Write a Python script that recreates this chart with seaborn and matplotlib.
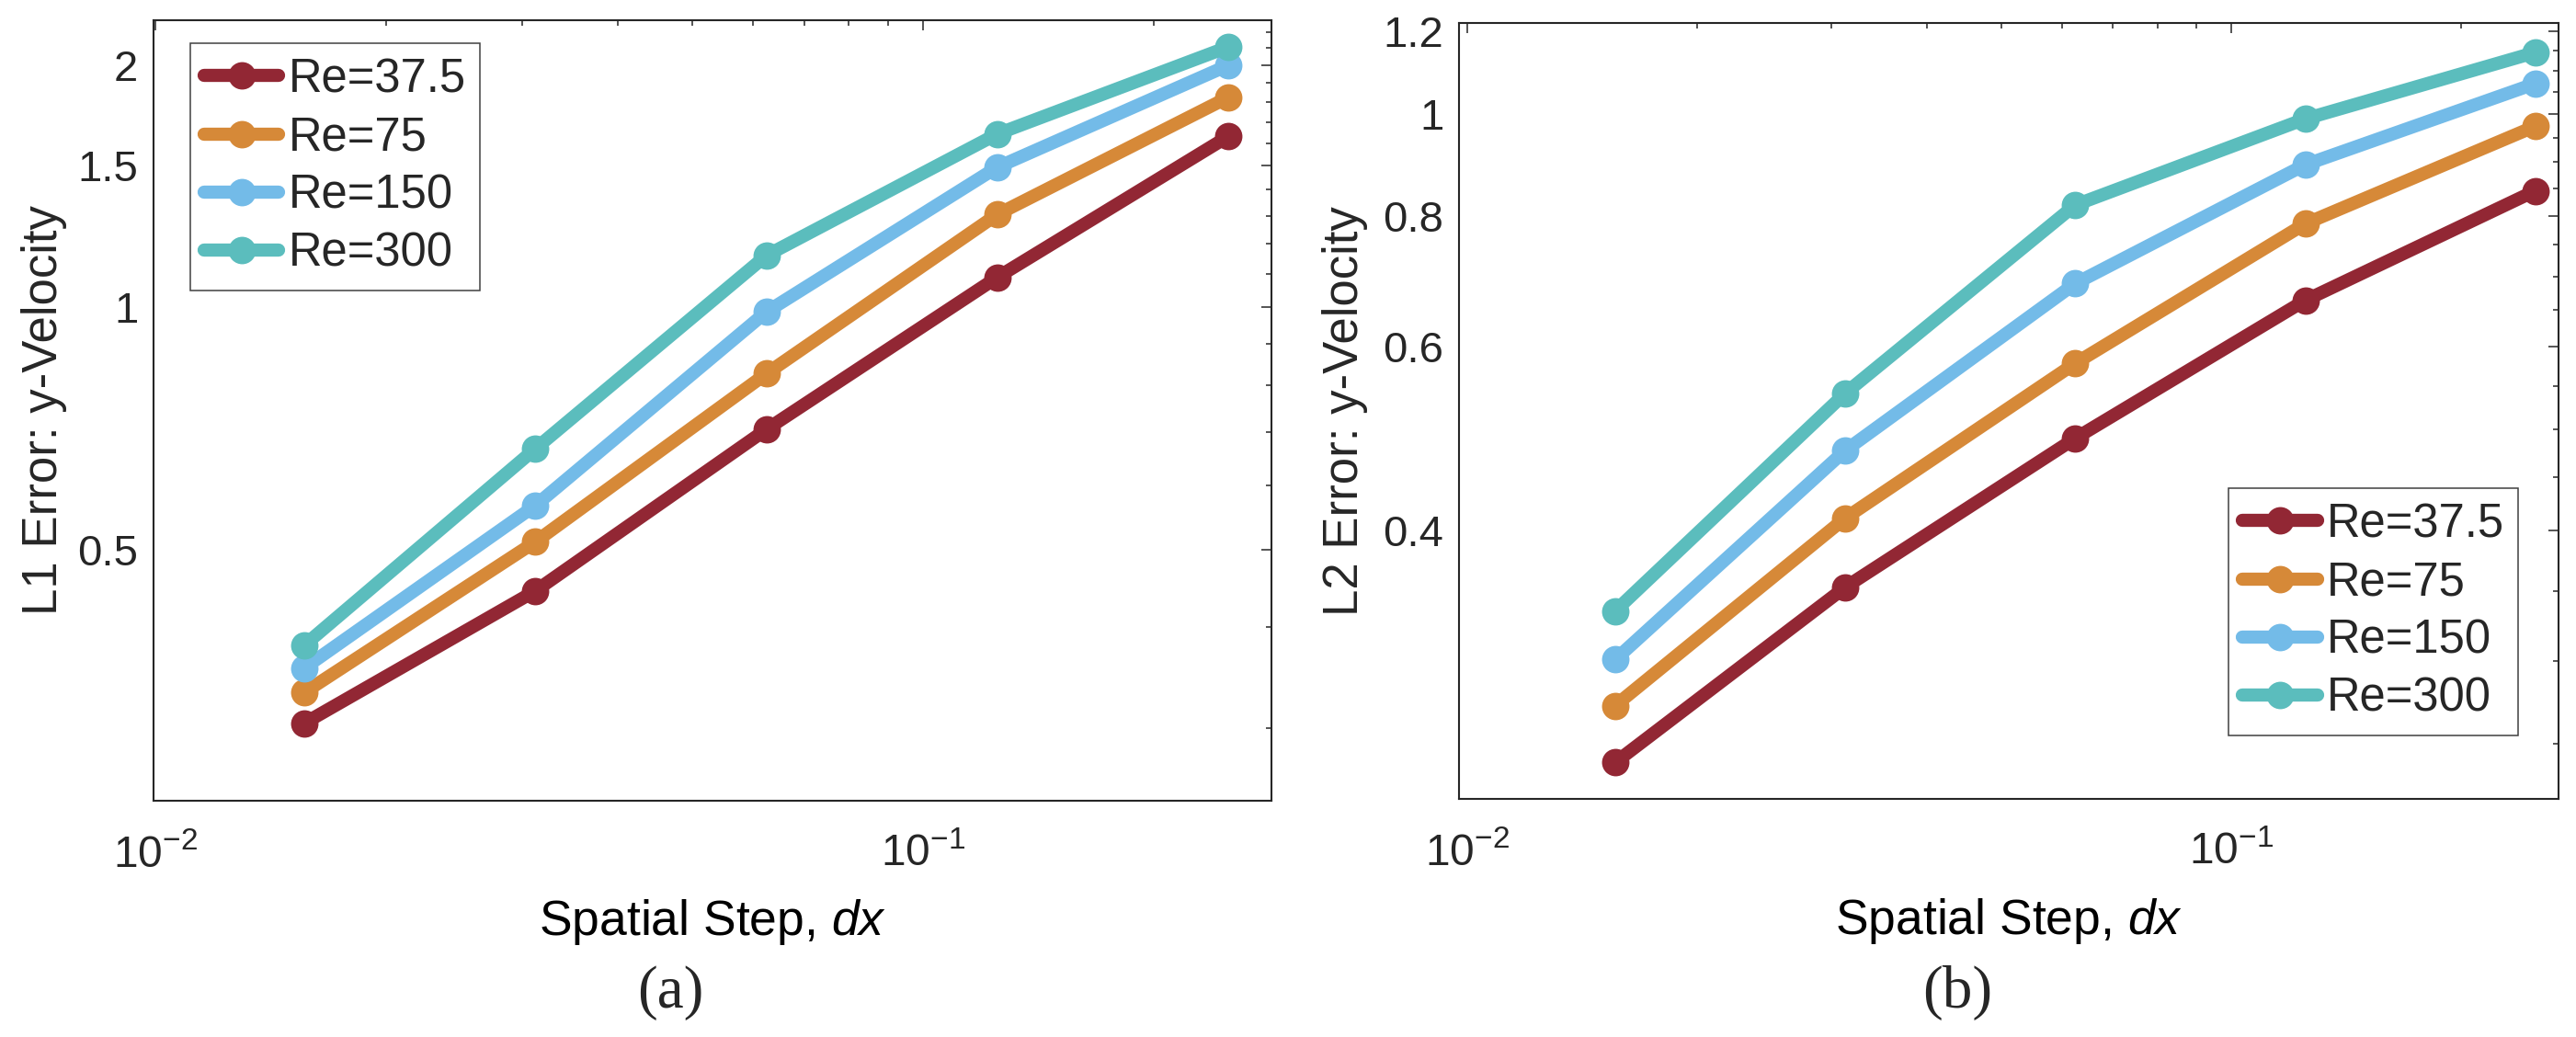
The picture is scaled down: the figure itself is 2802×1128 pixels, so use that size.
import numpy as np
import pandas as pd
import seaborn as sns
import matplotlib
matplotlib.use("Agg")
import matplotlib.pyplot as plt
from matplotlib import ticker

# datos
dx = [1 / 64, 1 / 32, 1 / 16, 1 / 8, 1 / 4]
re_labels = ["Re=37.5", "Re=75", "Re=150", "Re=300"]

l1_re37 = [0.304, 0.444, 0.705, 1.090, 1.632]
l1_re75 = [0.332, 0.511, 0.827, 1.305, 1.825]
l1_re150 = [0.356, 0.567, 0.987, 1.494, 2.000]
l1_re300 = [0.380, 0.667, 1.160, 1.643, 2.108]

l2_re37 = [0.240, 0.353, 0.490, 0.664, 0.845]
l2_re75 = [0.272, 0.411, 0.578, 0.786, 0.974]
l2_re150 = [0.301, 0.477, 0.689, 0.895, 1.070]
l2_re300 = [0.335, 0.541, 0.819, 0.990, 1.146]

colores = ["#922734", "#D68938", "#73BBE8", "#5BBDBD"]


def armar_df(series):
    filas = []
    for lab, vals in zip(re_labels, series):
        for x, v in zip(dx, vals):
            filas.append({"dx": x, "err": v, "Re": lab})
    return pd.DataFrame(filas)


df_l1 = armar_df([l1_re37, l1_re75, l1_re150, l1_re300])
df_l2 = armar_df([l2_re37, l2_re75, l2_re150, l2_re300])

sns.set_style("white")
plt.rcParams["font.family"] = ["Liberation Sans", "DejaVu Sans"]
plt.rcParams["mathtext.fontset"] = "custom"
plt.rcParams["mathtext.rm"] = "Liberation Sans"
plt.rcParams["mathtext.it"] = "Liberation Sans:italic"

W, H = 2802, 1128
fig = plt.figure(figsize=(W / 100, H / 100), dpi=100)

# posiciones en pixeles: izq, der, arriba, abajo
cajas = [(167, 1383, 22, 871), (1587, 2783, 25, 869)]
ejes = []
for (x0, x1, y0, y1) in cajas:
    ejes.append(fig.add_axes([x0 / W, 1 - y1 / H, (x1 - x0) / W, (y1 - y0) / H]))

ax1, ax2 = ejes
gris = "#262626"


def dibujar(ax, df, xlim, ylim, yticks, ymenor, ylabel):
    ax.set_xscale("log")
    ax.set_yscale("log")
    sns.lineplot(data=df, x="dx", y="err", hue="Re", hue_order=re_labels,
                 palette=colores, marker="o", markersize=21.5,
                 markeredgewidth=0, linewidth=10.3, legend=False, ax=ax)
    ax.set_xlim(*xlim)
    ax.set_ylim(*ylim)
    ax.yaxis.set_major_locator(ticker.FixedLocator(yticks))
    ax.yaxis.set_major_formatter(ticker.FuncFormatter(lambda v, p: f"{v:g}"))
    ax.yaxis.set_minor_locator(ticker.MultipleLocator(ymenor))
    ax.yaxis.set_minor_formatter(ticker.NullFormatter())
    ax.xaxis.set_major_locator(ticker.LogLocator(base=10))
    ax.xaxis.set_minor_locator(ticker.LogLocator(base=10, subs=np.arange(2, 10)))
    ax.xaxis.set_minor_formatter(ticker.NullFormatter())
    ax.tick_params(which="both", direction="in", top=True, right=True,
                   color=gris, width=1.1, labelcolor=gris)
    ax.tick_params(which="major", length=8)
    ax.tick_params(which="minor", length=4.3)
    ax.tick_params(axis="y", labelsize=34, pad=12)
    ax.tick_params(axis="x", labelsize=34.5, pad=26)
    for s in ax.spines.values():
        s.set_color(gris)
        s.set_linewidth(1.5)
    ax.set_xlabel("Spatial Step, $\\it{dx}$", fontsize=38.5, color="black")
    ax.set_ylabel(ylabel, fontsize=38, color=gris)
    ax.xaxis.label.set_va("baseline")
    ax.yaxis.label.set_va("baseline")


dibujar(ax1, df_l1, (0.00994, 0.2844), (0.2435, 2.275), [0.5, 1, 1.5, 2], 0.1,
        "L1 Error: y-Velocity")
dibujar(ax2, df_l2, (0.00976, 0.268), (0.2215, 1.2226), [0.4, 0.6, 0.8, 1, 1.2], 0.05,
        "L2 Error: y-Velocity")

ax1.xaxis.set_label_coords(0.5, (871 - 1017) / 849)
ax2.xaxis.set_label_coords(0.5, (869 - 1016) / 844)
ax1.yaxis.set_label_coords((62 - 167) / 1216, 0.5)
ax2.yaxis.set_label_coords((1477 - 1587) / 1196, 0.5)

ley_kw = dict(fontsize=36.5, frameon=True, fancybox=False, framealpha=1,
              edgecolor="#404040", handlelength=1.6, handletextpad=0.2,
              labelspacing=0.28, borderpad=0.3, borderaxespad=0)
leg1 = ax1.legend(ax1.lines[:4], re_labels, loc="upper left",
                  bbox_to_anchor=(40 / 1216, 1 - 25 / 849), **ley_kw)
leg2 = ax2.legend(ax2.lines[:4], re_labels, loc="lower right",
                  bbox_to_anchor=((2739 - 1587) / 1196, 69 / 844), **ley_kw)
for leg in (leg1, leg2):
    leg.get_frame().set_linewidth(1.1)

fig.text(729 / W, 1 - 1096 / H, "(a)", ha="center", va="baseline",
         fontsize=47, family=["Liberation Serif", "DejaVu Serif"])
fig.text(2129 / W, 1 - 1096 / H, "(b)", ha="center", va="baseline",
         fontsize=47, family=["Liberation Serif", "DejaVu Serif"])

fig.savefig("out.png", dpi=100, facecolor="white")
